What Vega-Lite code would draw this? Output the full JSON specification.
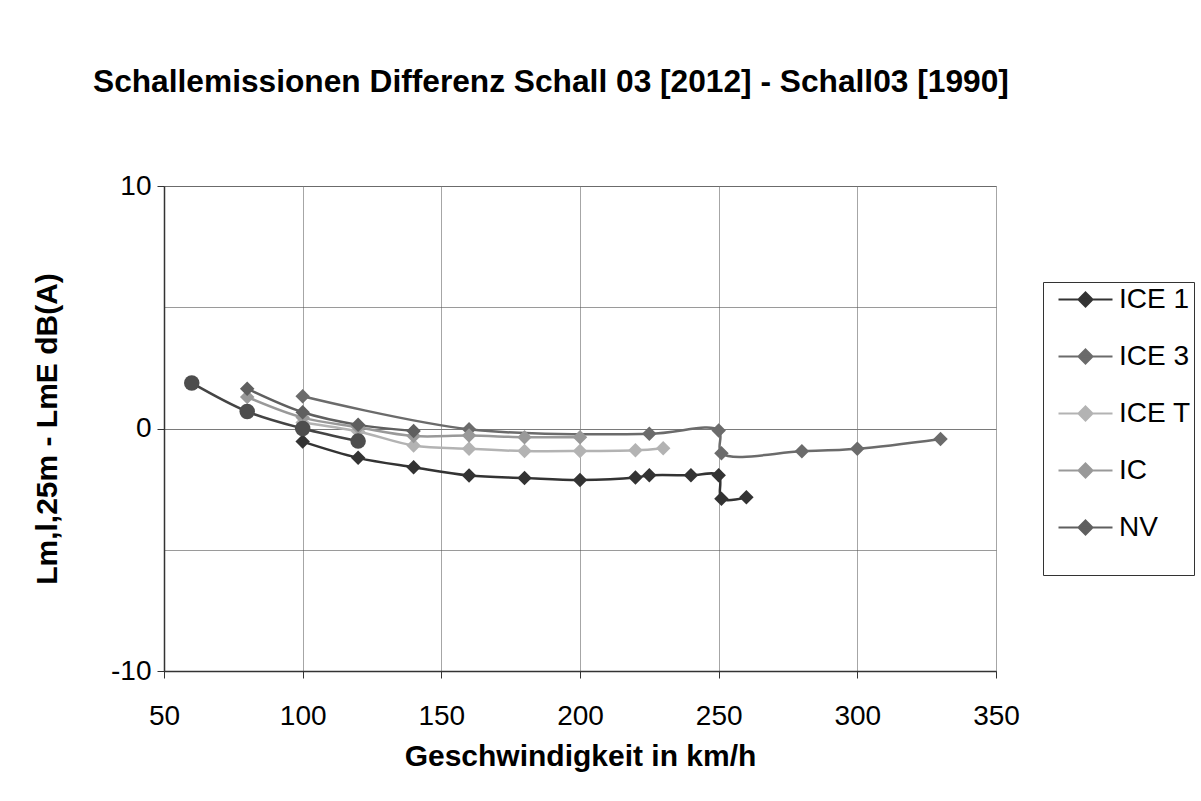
{
  "$schema": "https://vega.github.io/schema/vega-lite/v6.json",
  "autosize": {"type": "none"},
  "width": 832,
  "height": 485,
  "padding": {"left": 164, "top": 186, "right": 205, "bottom": 130},
  "background": "white",
  "config": {
    "font": "Liberation Sans",
    "view": {"stroke": "#8c8c8c", "strokeWidth": 1},
    "legend": {
      "orient": "none",
      "legendX": 879,
      "legendY": 96,
      "padding": 3,
      "strokeColor": "#333333",
      "fillColor": "white",
      "symbolType": "M-2,0H2M0,-0.52L0.52,0L0,0.52L-0.52,0Z",
      "symbolSize": 729,
      "symbolStrokeWidth": 2,
      "symbolOffset": 25,
      "labelOffset": 19,
      "labelFontSize": 28,
      "labelColor": "black",
      "labelFont": "Liberation Sans",
      "rowPadding": 28,
      "titleOrient": "bottom",
      "titleFontSize": 20,
      "titlePadding": 10,
      "titleLimit": 400
    }
  },
  "title": {
    "text": "Schallemissionen Differenz Schall 03 [2012] - Schall03 [1990]",
    "font": "Liberation Sans",
    "fontSize": 31.7,
    "fontWeight": "bold",
    "color": "black",
    "anchor": "start",
    "frame": "group",
    "dx": -71,
    "offset": 73
  },
  "data": {
    "values": [
      {"series": "ICE 1", "speed": 100, "value": -0.54},
      {"series": "ICE 1", "speed": 120, "value": -1.21},
      {"series": "ICE 1", "speed": 140, "value": -1.6},
      {"series": "ICE 1", "speed": 160, "value": -1.94},
      {"series": "ICE 1", "speed": 180, "value": -2.04},
      {"series": "ICE 1", "speed": 200, "value": -2.12},
      {"series": "ICE 1", "speed": 220, "value": -2.02},
      {"series": "ICE 1", "speed": 225, "value": -1.93},
      {"series": "ICE 1", "speed": 240, "value": -1.93},
      {"series": "ICE 1", "speed": 250, "value": -1.93},
      {"series": "ICE 1", "speed": 251, "value": -2.9},
      {"series": "ICE 1", "speed": 260, "value": -2.84},
      {"series": "ICE 3", "speed": 100, "value": 1.33},
      {"series": "ICE 3", "speed": 160, "value": -0.03},
      {"series": "ICE 3", "speed": 225, "value": -0.22},
      {"series": "ICE 3", "speed": 250, "value": -0.08},
      {"series": "ICE 3", "speed": 251, "value": -1.02},
      {"series": "ICE 3", "speed": 280, "value": -0.94},
      {"series": "ICE 3", "speed": 300, "value": -0.84},
      {"series": "ICE 3", "speed": 330, "value": -0.43},
      {"series": "ICE T", "speed": 100, "value": 0.25},
      {"series": "ICE T", "speed": 120, "value": -0.12},
      {"series": "ICE T", "speed": 140, "value": -0.7},
      {"series": "ICE T", "speed": 160, "value": -0.84},
      {"series": "ICE T", "speed": 180, "value": -0.93},
      {"series": "ICE T", "speed": 200, "value": -0.93},
      {"series": "ICE T", "speed": 220, "value": -0.9},
      {"series": "ICE T", "speed": 230, "value": -0.81},
      {"series": "IC", "speed": 80, "value": 1.3},
      {"series": "IC", "speed": 100, "value": 0.45},
      {"series": "IC", "speed": 120, "value": 0.05},
      {"series": "IC", "speed": 140, "value": -0.31},
      {"series": "IC", "speed": 160, "value": -0.29},
      {"series": "IC", "speed": 180, "value": -0.36},
      {"series": "IC", "speed": 200, "value": -0.36},
      {"series": "NV", "speed": 80, "value": 1.64},
      {"series": "NV", "speed": 100, "value": 0.67},
      {"series": "NV", "speed": 120, "value": 0.15},
      {"series": "NV", "speed": 140, "value": -0.1},
      {"series": "GZ", "speed": 60, "value": 1.88},
      {"series": "GZ", "speed": 80, "value": 0.7},
      {"series": "GZ", "speed": 100, "value": 0.0},
      {"series": "GZ", "speed": 120, "value": -0.52}
    ]
  },
  "encoding": {
    "x": {
      "field": "speed",
      "type": "quantitative",
      "scale": {"domain": [50, 350], "nice": false, "zero": false},
      "axis": {
        "values": [50, 100, 150, 200, 250, 300, 350],
        "labelFlush": false,
        "labelOverlap": false,
        "title": "Geschwindigkeit in km/h",
        "titleFontSize": 30,
        "titleFontWeight": "bold",
        "titleColor": "black",
        "titlePadding": 11,
        "labelFontSize": 28,
        "labelColor": "black",
        "labelPadding": 24,
        "tickSize": 7,
        "tickColor": "#333333",
        "domainColor": "#333333",
        "domainWidth": 1.5,
        "grid": true,
        "gridColor": "#a6a6a6",
        "gridWidth": 1
      }
    },
    "y": {
      "field": "value",
      "type": "quantitative",
      "scale": {"domain": [-10, 10], "nice": false},
      "axis": {
        "values": [-10, -5, 0, 5, 10],
        "labelFlush": false,
        "labelOverlap": false,
        "labelExpr": "abs(datum.value) == 5 ? '' : (datum.value < 0 ? '-' + abs(datum.value) : '' + datum.value)",
        "title": "Lm,l,25m - LmE dB(A)",
        "titleFontSize": 30,
        "titleFontWeight": "bold",
        "titleColor": "black",
        "titlePadding": 48,
        "labelFontSize": 28,
        "labelColor": "black",
        "labelPadding": 6,
        "tickSize": 7,
        "tickColor": "#333333",
        "tickOpacity": {"condition": {"test": "abs(datum.value) == 5", "value": 0}, "value": 1},
        "domainColor": "#333333",
        "domainWidth": 1.5,
        "grid": true,
        "gridColor": {"condition": {"test": "datum.value == 0", "value": "#7a7a7a"}, "value": "#555555"},
        "gridWidth": {"condition": {"test": "datum.value == 0", "value": 1.2}, "value": 0.6}
      }
    }
  },
  "layer": [
    {
      "mark": {"type": "line", "interpolate": "catmull-rom", "strokeWidth": 2.5},
      "encoding": {
        "stroke": {
          "field": "series",
          "type": "nominal",
          "scale": {
            "domain": ["ICE 1", "ICE 3", "ICE T", "IC", "NV", "GZ"],
            "range": ["#333333", "#6b6b6b", "#b3b3b3", "#999999", "#5f5f5f", "#444444"]
          },
          "legend": {"values": ["ICE 1", "ICE 3", "ICE T", "IC", "NV"], "title": "\u00a0\u00a0\u00a0\u00a0\u00a0\u00a0\u00a0\u00a0\u00a0\u00a0\u00a0\u00a0\u00a0\u00a0\u00a0\u00a0\u00a0\u00a0\u00a0\u00a0\u00a0\u00a0\u00a0\u00a0\u00a0\u00a0\u00a0\u00a0\u00a0\u00a0\u00a0\u00a0"}
        }
      }
    },
    {
      "transform": [{"filter": "datum.series != 'GZ'"}],
      "mark": {"type": "point", "shape": "diamond", "filled": true, "size": 210, "opacity": 1},
      "encoding": {
        "fill": {
          "field": "series",
          "type": "nominal",
          "scale": {
            "domain": ["ICE 1", "ICE 3", "ICE T", "IC", "NV", "GZ"],
            "range": ["#333333", "#6b6b6b", "#b3b3b3", "#999999", "#5f5f5f", "#444444"]
          },
          "legend": {"values": ["ICE 1", "ICE 3", "ICE T", "IC", "NV"], "title": "\u00a0\u00a0\u00a0\u00a0\u00a0\u00a0\u00a0\u00a0\u00a0\u00a0\u00a0\u00a0\u00a0\u00a0\u00a0\u00a0\u00a0\u00a0\u00a0\u00a0\u00a0\u00a0\u00a0\u00a0\u00a0\u00a0\u00a0\u00a0\u00a0\u00a0\u00a0\u00a0"}
        }
      }
    },
    {
      "transform": [{"filter": "datum.series == 'GZ'"}],
      "mark": {"type": "point", "shape": "circle", "filled": true, "size": 240, "opacity": 1, "color": "#4d4d4d"}
    }
  ]
}
